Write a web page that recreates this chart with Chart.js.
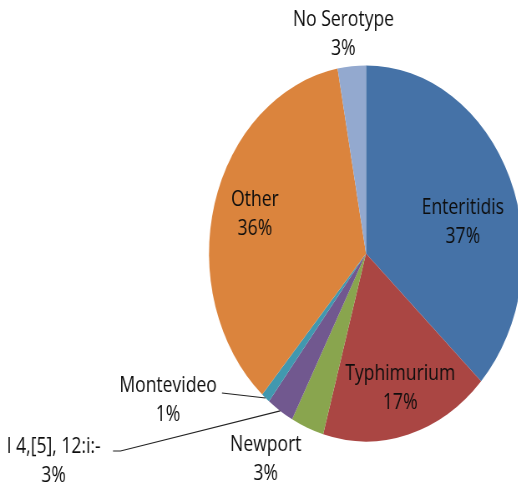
<!DOCTYPE html>
<html>
<head>
<meta charset="utf-8">
<script src="https://cdn.jsdelivr.net/npm/chart.js@4"></script>
<style>
  html, body { margin:0; padding:0; background:#fff; width:518px; height:483px; overflow:hidden; }
  #wrap { width:700px; height:483px; transform:scaleX(0.835); transform-origin:0 0; }
</style>
</head>
<body>
<div id="wrap"><canvas id="c" width="700" height="483"></canvas></div>
<script>
const categories = ["Enteritidis", "Typhimurium", "Newport", "I 4,[5], 12:i:-", "Montevideo", "Other", "No Serotype"];
const shares = [36.9, 17.5, 3.4, 2.8, 0.9, 35.6, 2.9];
const percentLabels = ["37%", "17%", "3%", "3%", "1%", "36%", "3%"];
const colors = ["#4572A7", "#AA4643", "#89A54E", "#71588F", "#4198AF", "#DB843D", "#93A9CF"];

// label placement relative to pie centre (canvas units), and optional leader line
const labelLayout = [
  { dx: 116, dy: -45 },
  { dx: 41, dy: 121 },
  { dx: -120, dy: 192 },
  { dx: -374, dy: 194, line: [[-303, 197.5], [-294, 197.5]] },
  { dx: -237, dy: 133, line: [[-172.5, 139.5]] },
  { dx: -133, dy: -53 },
  { dx: -27, dy: -233 }
];

const labelPlugin = {
  id: 'pieLabels',
  afterDatasetsDraw(chart) {
    const ctx = chart.ctx;
    const arcs = chart.getDatasetMeta(0).data;
    ctx.save();
    ctx.font = '21px "Open Sans", sans-serif';
    ctx.fillStyle = '#0d0d0d';
    ctx.textAlign = 'center';
    ctx.textBaseline = 'middle';
    arcs.forEach((arc, i) => {
      const L = labelLayout[i];
      const cx = arc.x, cy = arc.y;
      if (L.line) {
        const mid = (arc.startAngle + arc.endAngle) / 2;
        const r = arc.outerRadius;
        ctx.beginPath();
        ctx.strokeStyle = '#222';
        ctx.lineWidth = 1.2;
        ctx.moveTo(cx + L.line[0][0], cy + L.line[0][1]);
        for (let k = 1; k < L.line.length; k++) ctx.lineTo(cx + L.line[k][0], cy + L.line[k][1]);
        ctx.lineTo(cx + Math.cos(mid) * r, cy + Math.sin(mid) * r);
        ctx.stroke();
      }
      ctx.fillText(categories[i], cx + L.dx, cy + L.dy);
      ctx.fillText(percentLabels[i], cx + L.dx, cy + L.dy + 29);
    });
    ctx.restore();
  }
};

new Chart(document.getElementById('c'), {
  type: 'pie',
  data: {
    labels: categories,
    datasets: [{
      data: shares,
      backgroundColor: colors,
      borderWidth: 0,
      hoverOffset: 0,
      radius: 188
    }]
  },
  options: {
    responsive: false,
    animation: false,
    events: [],
    layout: { padding: { top: 65.5, bottom: 41.5, left: 250.3, right: 73.7 } },
    plugins: { legend: { display: false }, tooltip: { enabled: false } }
  },
  plugins: [labelPlugin]
});
</script>
</body>
</html>
